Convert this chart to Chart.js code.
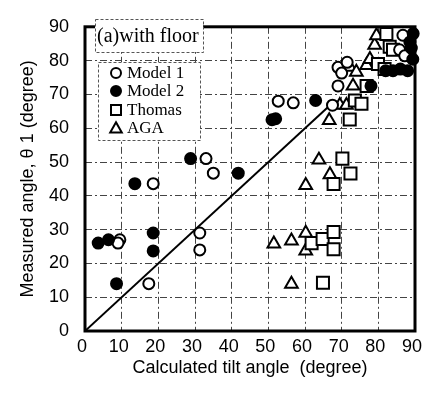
<!DOCTYPE html>
<html>
<head>
<meta charset="utf-8">
<script src="https://cdn.jsdelivr.net/npm/chart.js@4.4.1/dist/chart.umd.min.js"></script>
<style>
  html, body { margin: 0; padding: 0; background: #fff; }
  #wrap { width: 436px; height: 405px; }
</style>
</head>
<body>
<div id="wrap"><canvas id="chart" width="436" height="405"></canvas></div>
<script>
// values (degree)
const model1X = [9.5, 9.0, 17.4, 18.6, 31.3, 31.3, 33.0, 35.0, 52.7, 56.8, 67.5, 69.0, 69.0, 70.0, 71.5, 85.8, 86.7, 87.2];
const model1Y = [27.0, 26.0, 14.0, 43.6, 29.0, 24.0, 51.0, 46.7, 68.0, 67.5, 66.8, 72.5, 78.0, 76.3, 79.5, 83.2, 87.5, 81.4];

const model2X = [3.6, 6.4, 8.6, 13.6, 18.6, 18.6, 28.8, 41.8, 51.0, 52.0, 62.9, 78.0, 82.0, 84.0, 86.0, 88.0, 89.4, 89.0, 89.5, 88.6];
const model2Y = [26.0, 27.0, 14.0, 43.6, 29.0, 23.7, 51.0, 46.7, 62.5, 62.8, 68.2, 72.5, 77.0, 77.0, 77.5, 77.0, 80.4, 83.7, 88.0, 85.5];

const thomasX = [64.9, 61.8, 64.8, 67.8, 67.8, 67.8, 70.2, 72.4, 72.2, 73.6, 75.4, 76.8, 79.9, 81.7, 83.1, 82.2, 84.0];
const thomasY = [14.3, 26.0, 27.2, 29.3, 24.2, 43.5, 51.0, 46.6, 62.6, 68.2, 67.2, 72.5, 79.0, 77.5, 84.1, 87.9, 83.2];

const agaX = [56.3, 51.5, 56.3, 60.2, 60.2, 60.2, 63.8, 66.8, 66.6, 69.5, 71.3, 73.1, 72.2, 74.0, 76.8, 77.7, 79.0, 79.5];
const agaY = [13.9, 25.8, 26.7, 29.0, 23.7, 43.1, 50.6, 46.3, 62.3, 66.8, 66.8, 72.5, 78.1, 76.6, 78.6, 80.4, 84.6, 87.4];

// 1:1 line (runs into the marker cluster)
const diagX = [0, 68];
const diagY = [0, 68];

const axisTicks = [0, 10, 20, 30, 40, 50, 60, 70, 80, 90];
const seriesNames = ['Model 1', 'Model 2', 'Thomas', 'AGA'];
const panelTitle = '(a)with floor';

const toPoints = (xs, ys) => xs.map((x, i) => ({ x, y: ys[i] }));

const markerSet = (label, xs, ys, style, radius, fill, order) => ({
  label,
  data: toPoints(xs, ys),
  pointStyle: style,
  pointRadius: radius,
  pointHoverRadius: radius,
  pointBackgroundColor: fill,
  pointBorderColor: '#000',
  pointBorderWidth: 2,
  showLine: false,
  clip: false,
  order
});

// little legend + panel label drawn inside the plot
function drawMarker(ctx, style, x, y, r, filled) {
  ctx.beginPath();
  if (style === 'circle') {
    ctx.arc(x, y, r, 0, Math.PI * 2);
  } else if (style === 'rect') {
    ctx.rect(x - r, y - r, r * 2, r * 2);
  } else {
    ctx.moveTo(x, y - r * 1.05);
    ctx.lineTo(x + r * 1.05, y + r * 0.8);
    ctx.lineTo(x - r * 1.05, y + r * 0.8);
    ctx.closePath();
  }
  ctx.fillStyle = filled ? '#000' : '#fff';
  ctx.fill();
  ctx.lineWidth = 2;
  ctx.strokeStyle = '#000';
  ctx.stroke();
}

const insetLegend = {
  id: 'insetLegend',
  afterDraw(chart) {
    const ctx = chart.ctx;
    const { left, top, right, bottom } = chart.chartArea;
    ctx.save();

    // heavy frame
    ctx.lineWidth = 3;
    ctx.strokeStyle = '#000';
    ctx.strokeRect(left, top, right - left, bottom - top);

    ctx.setLineDash([3, 2]);
    ctx.lineWidth = 1;
    ctx.strokeStyle = '#555';
    ctx.fillStyle = '#fff';

    // panel label box
    ctx.fillRect(95, 19, 108, 33);
    ctx.strokeRect(95.5, 19.5, 108, 33);
    // legend box
    ctx.fillStyle = '#fff';
    ctx.fillRect(98, 62, 102, 78);
    ctx.strokeRect(98.5, 62.5, 102, 78);
    ctx.setLineDash([]);

    ctx.fillStyle = '#000';
    ctx.textBaseline = 'middle';
    ctx.textAlign = 'left';
    ctx.font = '20px "Liberation Serif", "Times New Roman", serif';
    ctx.fillText(panelTitle, 97, 37);

    const styles = [['circle', false, 5], ['circle', true, 5], ['rect', false, 5], ['triangle', false, 5.5]];
    ctx.font = '17px "Liberation Serif", "Times New Roman", serif';
    const rows = [73, 91, 110, 128];
    seriesNames.forEach((name, i) => {
      const [st, filled, r] = styles[i];
      drawMarker(ctx, st, 116, rows[i], r, filled);
      ctx.fillStyle = '#000';
      ctx.fillText(name, 127, rows[i] + 1);
    });
    ctx.restore();
  }
};

const gridStyle = {
  color: '#444',
  lineWidth: 1,
  drawTicks: false
};

new Chart(document.getElementById('chart'), {
  type: 'scatter',
  data: {
    datasets: [
      markerSet(seriesNames[1], model2X, model2Y, 'circle', 5.5, '#000', 0),
      markerSet(seriesNames[0], model1X, model1Y, 'circle', 5.5, '#fff', 1),
      markerSet(seriesNames[2], thomasX, thomasY, 'rect', 8.5, '#fff', 2),
      markerSet(seriesNames[3], agaX, agaY, 'triangle', 7.3, '#fff', 3),
      {
        label: '1:1',
        data: toPoints(diagX, diagY),
        showLine: true,
        borderColor: '#000',
        borderWidth: 2,
        pointRadius: 0,
        order: 10
      }
    ]
  },
  plugins: [insetLegend],
  options: {
    responsive: false,
    animation: false,
    layout: { padding: { top: 10, right: 21, left: 0, bottom: 0 } },
    plugins: {
      legend: { display: false },
      tooltip: { enabled: false }
    },
    scales: {
      x: {
        type: 'linear',
        min: 0,
        max: 90,
        afterBuildTicks: scale => { scale.ticks = axisTicks.map(v => ({ value: v })); },
        afterFit: scale => { scale.height = 74; },
        grid: gridStyle,
        border: { display: false, dash: [7, 3, 2, 3] },
        ticks: {
          color: '#000',
          padding: 5,
          labelOffset: -3,
          maxRotation: 0,
          font: { family: '"Liberation Sans", Arial, sans-serif', size: 18 }
        },
        title: {
          display: true,
          text: 'Calculated tilt angle  (degree)',
          color: '#000',
          padding: { top: 0, bottom: 26 },
          font: { family: '"Liberation Sans", Arial, sans-serif', size: 18 }
        }
      },
      y: {
        type: 'linear',
        min: 0,
        max: 90,
        afterBuildTicks: scale => { scale.ticks = axisTicks.map(v => ({ value: v })); },
        afterFit: scale => { scale.width = 85; },
        grid: gridStyle,
        border: { display: false, dash: [7, 3, 2, 3] },
        ticks: {
          color: '#000',
          padding: 16,
          font: { family: '"Liberation Sans", Arial, sans-serif', size: 18 }
        },
        title: {
          display: true,
          text: 'Measured angle, θ 1 (degree)',
          color: '#000',
          padding: { top: 17, bottom: 0 },
          font: { family: '"Liberation Sans", Arial, sans-serif', size: 18 }
        }
      }
    }
  }
});
</script>
</body>
</html>
